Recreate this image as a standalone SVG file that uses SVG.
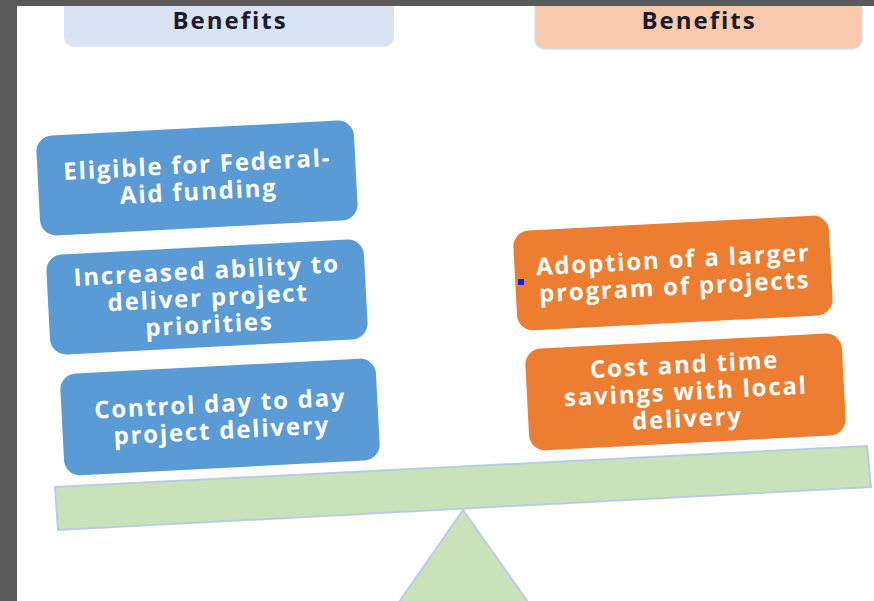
<svg xmlns="http://www.w3.org/2000/svg" width="874" height="601" viewBox="0 0 874 601">
<style>
.frame{fill:#5a5a5a}
.hdr{font-family:"Open Sans","Liberation Sans",sans-serif;font-weight:bold;font-size:24px;letter-spacing:2px;fill:#1b1b30;text-anchor:middle}
.lbl{font-family:"Open Sans","Liberation Sans",sans-serif;font-weight:bold;font-size:24px;letter-spacing:1.8px;fill:#ffffff;text-anchor:middle}
.blue{fill:#5b9bd5}
.orange{fill:#ed7d31}
.green{fill:#c9e2b9;stroke:#b8cce6;stroke-width:2}
</style>
<rect x="0" y="0" width="874" height="601" fill="#ffffff"/>
<g id="header-left">
<rect x="64" y="-20" width="330" height="67" rx="10" fill="#dae3f3"/>
<text class="hdr" x="230" y="29">Benefits</text>
</g>
<g id="header-right">
<rect x="535" y="-20" width="327" height="69" rx="10" fill="#f8cbad" stroke="#d5e0ef" stroke-width="1.5"/>
<text class="hdr" x="699" y="29">Benefits</text>
</g>
<g id="fulcrum">
<polygon class="green" points="463,510 399,602 528,602"/>
</g>
<g id="beam">
<polygon class="green" points="55,487 867,446 871,487 58,530"/>
</g>
<g id="b1" transform="rotate(-3 197 178)">
<rect class="blue" x="38" y="128" width="318" height="100" rx="16"/>
<text class="lbl" x="198" y="173">Eligible for Federal-</text>
<text class="lbl" x="198" y="200">Aid funding</text>
</g>
<g id="b2" transform="rotate(-3 207 297)">
<rect class="blue" x="48" y="247" width="318" height="100" rx="16"/>
<text class="lbl" x="208" y="279">Increased ability to</text>
<text class="lbl" x="208" y="306">deliver project</text>
<text class="lbl" x="208" y="333">priorities</text>
</g>
<g id="b3" transform="rotate(-3 220 417)">
<rect class="blue" x="62" y="366" width="316" height="102" rx="16"/>
<text class="lbl" x="221" y="412">Control day to day</text>
<text class="lbl" x="221" y="439">project delivery</text>
</g>
<g id="o1" transform="rotate(-3 673 273)">
<rect class="orange" x="515" y="223" width="316" height="100" rx="16"/>
<text class="lbl" x="674" y="268">Adoption of a larger</text>
<text class="lbl" x="674" y="295">program of projects</text>
</g>
<g id="o2" transform="rotate(-3 685 392)">
<rect class="orange" x="527" y="341" width="317" height="102" rx="16"/>
<text class="lbl" x="686" y="373">Cost and time</text>
<text class="lbl" x="686" y="400">savings with local</text>
<text class="lbl" x="686" y="427">delivery</text>
</g>
<rect x="518" y="279" width="6" height="6" fill="#1a1aff"/>
<rect class="frame" x="0" y="0" width="874" height="6"/>
<rect class="frame" x="0" y="0" width="17" height="601"/>
</svg>
